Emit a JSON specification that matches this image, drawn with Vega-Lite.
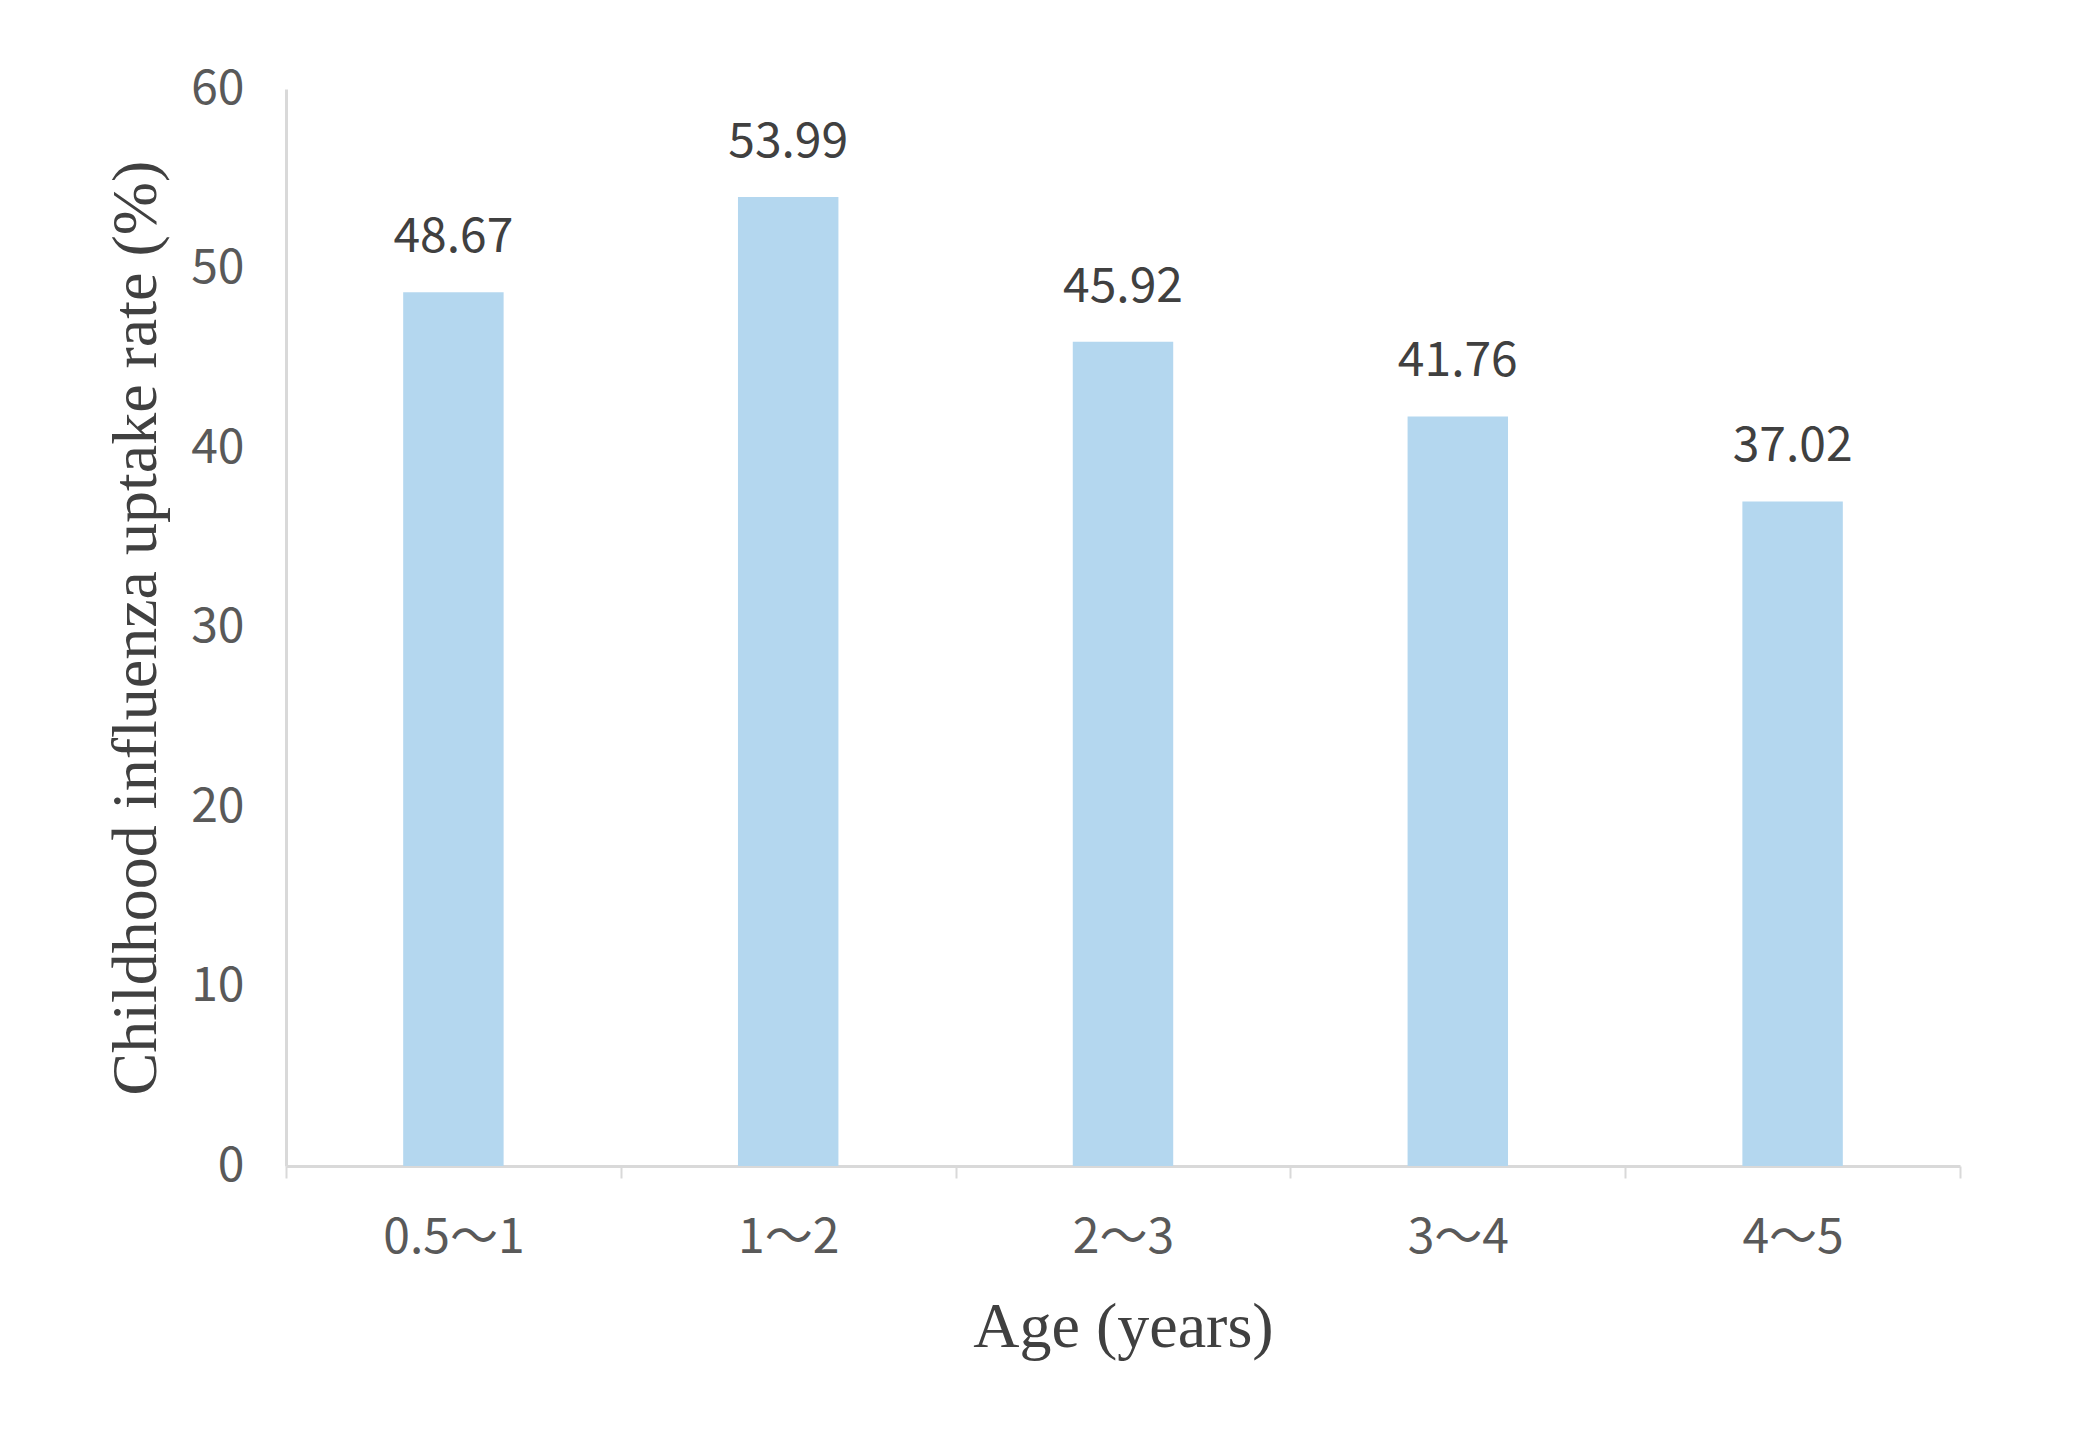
{
  "$schema": "https://vega.github.io/schema/vega-lite/v6.json",
  "width": 1674,
  "height": 1077,
  "autosize": {"type": "none"},
  "padding": {"left": 286, "top": 89, "right": 121, "bottom": 272},
  "background": "white",
  "config": {"view": {"stroke": null}},
  "data": {
    "values": [
      {"age": "0.5～1", "rate": 48.67},
      {"age": "1～2", "rate": 53.99},
      {"age": "2～3", "rate": 45.92},
      {"age": "3～4", "rate": 41.76},
      {"age": "4～5", "rate": 37.02}
    ]
  },
  "encoding": {
    "x": {
      "field": "age",
      "type": "nominal",
      "sort": null,
      "scale": {"paddingInner": 0, "paddingOuter": 0},
      "axis": {
        "title": "Age (years)",
        "labelAngle": 0,
        "tickBand": "extent",
        "tickSize": 12,
        "tickColor": "#d9d9d9",
        "tickWidth": 2,
        "domainColor": "#d9d9d9",
        "domainWidth": 3,
        "labelFont": "Noto Sans CJK SC",
        "labelFontSize": 48,
        "labelColor": "#595959",
        "labelPadding": 36,
        "titleFont": "Liberation Serif",
        "titleFontSize": 64,
        "titleFontWeight": "normal",
        "titleColor": "#404040",
        "titlePadding": 33
      }
    },
    "y": {
      "field": "rate",
      "type": "quantitative",
      "scale": {"domain": [0, 60]},
      "axis": {
        "title": "Childhood influenza uptake rate (%)",
        "values": [0, 10, 20, 30, 40, 50, 60],
        "grid": false,
        "ticks": false,
        "domainColor": "#d9d9d9",
        "domainWidth": 3,
        "labelFont": "Noto Sans CJK SC",
        "labelFontSize": 48,
        "labelColor": "#595959",
        "labelPadding": 42,
        "titleFont": "Liberation Serif",
        "titleFontSize": 64,
        "titleFontWeight": "normal",
        "titleColor": "#404040",
        "titlePadding": 22
      }
    }
  },
  "layer": [
    {"mark": {"type": "bar", "color": "#b4d7ef", "width": {"band": 0.3}}},
    {
      "mark": {
        "type": "text",
        "baseline": "alphabetic",
        "dy": -40,
        "font": "Noto Sans CJK SC",
        "fontSize": 48,
        "color": "#404040"
      },
      "encoding": {"text": {"field": "rate", "type": "quantitative", "format": ".2f"}}
    }
  ]
}
